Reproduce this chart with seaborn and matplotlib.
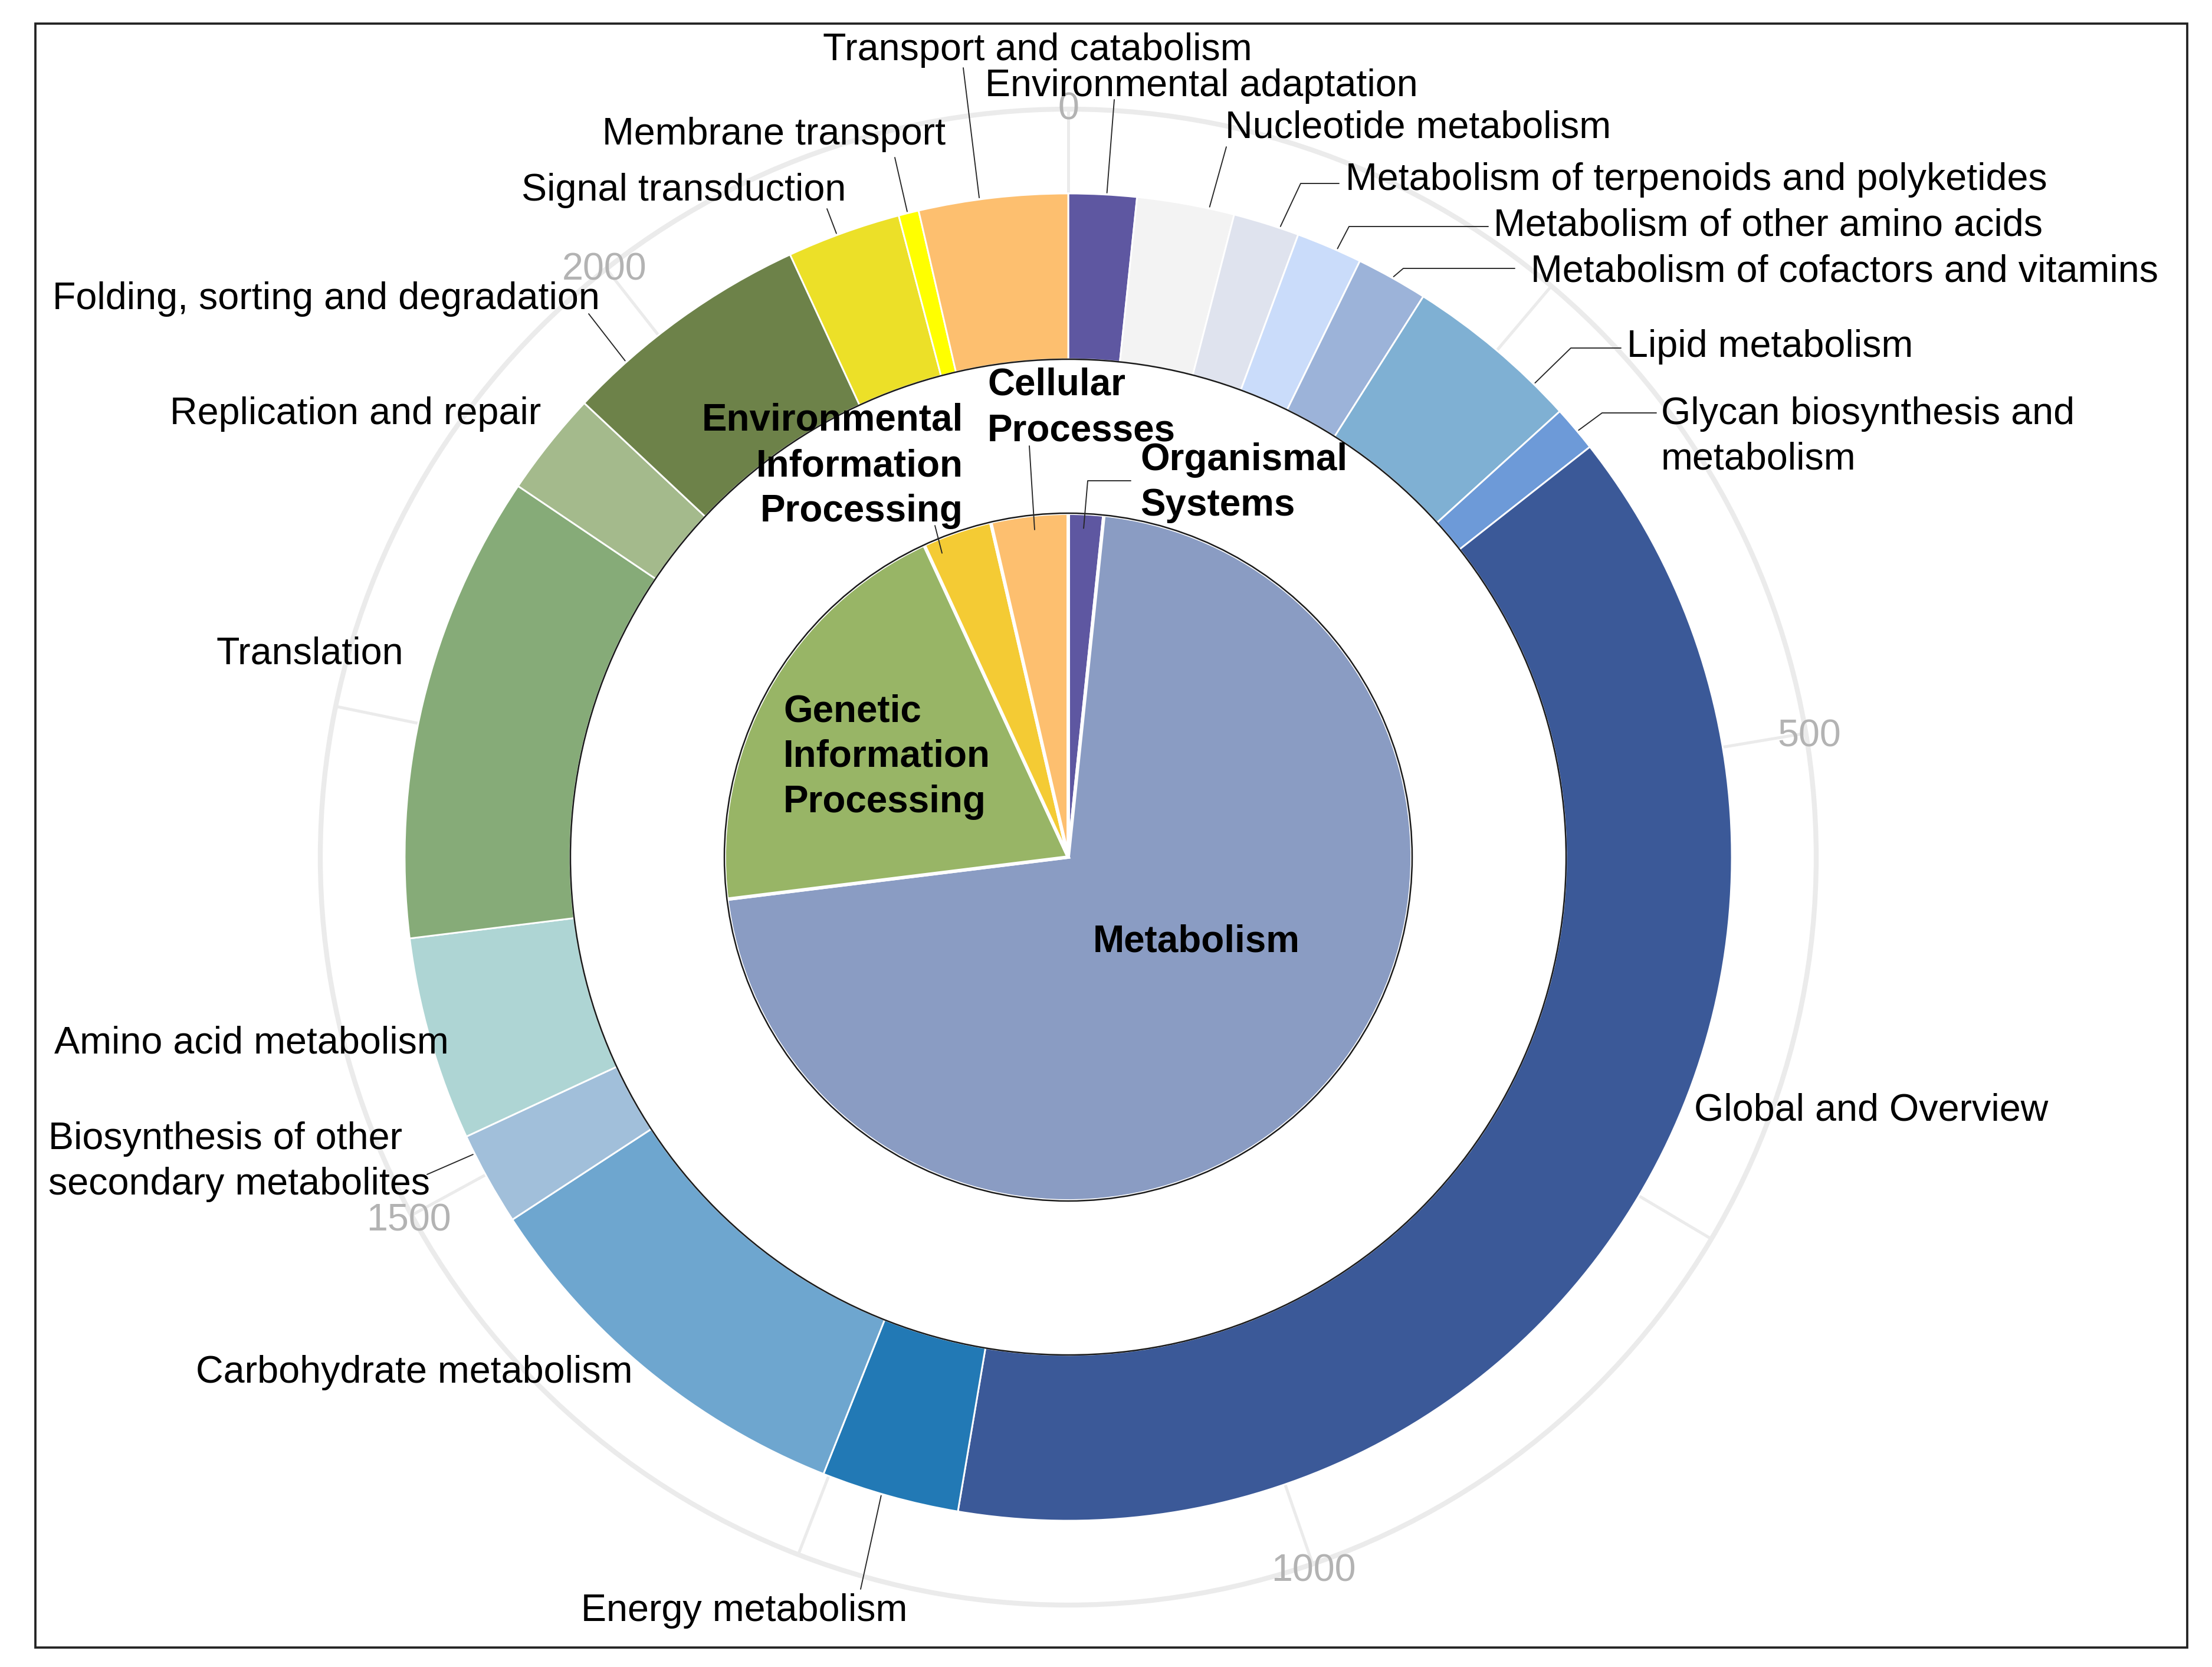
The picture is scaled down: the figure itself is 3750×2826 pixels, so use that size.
import numpy as np
import pandas as pd
import matplotlib
matplotlib.use("Agg")
import matplotlib.pyplot as plt
from matplotlib.patches import Circle, Rectangle
import seaborn as sns

# KEGG level 2 pathways, clockwise from the top (0)
pathways = ["Environmental adaptation", "Nucleotide metabolism",
            "Metabolism of terpenoids and polyketides", "Metabolism of other amino acids",
            "Metabolism of cofactors and vitamins", "Lipid metabolism",
            "Glycan biosynthesis and metabolism", "Global and Overview", "Energy metabolism",
            "Carbohydrate metabolism", "Biosynthesis of other secondary metabolites",
            "Amino acid metabolism", "Translation", "Replication and repair",
            "Folding, sorting and degradation", "Signal transduction", "Membrane transport",
            "Transport and catabolism"]
level1 = ["Organismal Systems"] + ["Metabolism"] * 11 + ["Genetic Information Processing"] * 3 \
    + ["Environmental Information Processing"] * 2 + ["Cellular Processes"]
counts = [37, 53, 36, 36, 39, 96, 25, 856, 75, 219, 51, 111, 255, 57, 137, 62, 11, 81]

outer_colors = ["#5e57a1", "#f3f3f3", "#dfe3ee", "#cadcfa", "#9cb3d9", "#7fb0d3", "#6d9ad8",
                "#3b5998", "#2279b5", "#6ea6cf", "#a1bfda", "#aed5d4", "#86ab78", "#a4ba8c",
                "#6d8249", "#ece028", "#ffff00", "#fdbf6f"]
inner_colors = {"Organismal Systems": "#5e57a1", "Metabolism": "#8a9cc3",
                "Genetic Information Processing": "#98b566",
                "Environmental Information Processing": "#f4cb34",
                "Cellular Processes": "#fdbf6f"}
tick_values = [0, 500, 1000, 1500, 2000]

df = pd.DataFrame({"pathway": pathways, "level1": level1, "count": counts})
inner = df.groupby("level1", sort=False)["count"].sum()
total = df["count"].sum()

sns.set_theme(style="white")
plt.rcParams["font.family"] = ["Liberation Sans", "DejaVu Sans"]

W, H = 3750, 2826
fig = plt.figure(figsize=(W / 300, H / 300), dpi=300)
ax = fig.add_axes([0, 0, 1, 1])

cx, cy = 1811, H - 1453
R_OUT, R_IN, R_PIE, R_GRID = 1125, 844, 583, 1268


def polar(value, r):
    # clockwise from the top, value in counts
    a = np.deg2rad(value / total * 360)
    return cx + r * np.sin(a), cy + r * np.cos(a)


# background scale: circle, radial ticks and values
ax.add_patch(Circle((cx, cy), R_GRID, fill=False, ec="#ebebeb", lw=2.0, zorder=0))
for v in np.arange(0, total, 250):
    x0, y0 = polar(v, R_OUT)
    x1, y1 = polar(v, R_GRID)
    ax.plot([x0, x1], [y0, y1], color="#ebebeb", lw=1.2, zorder=0)
for v in tick_values:
    x, y = polar(v, R_GRID + 6)
    ax.text(x, y, str(v), ha="center", va="center_baseline", fontsize=15.5, color="#b3b3b3",
            zorder=1)

# rings
ax.pie(df["count"], radius=R_OUT, center=(cx, cy), startangle=90, counterclock=False,
       colors=outer_colors, wedgeprops=dict(width=R_OUT - R_IN, edgecolor="white", linewidth=0.7))
ax.pie(inner.values, radius=R_PIE, center=(cx, cy), startangle=90, counterclock=False,
       colors=[inner_colors[k] for k in inner.index],
       wedgeprops=dict(edgecolor="white", linewidth=1.4))
ax.add_patch(Circle((cx, cy), R_IN, fill=False, ec="#1a1a1a", lw=0.6, zorder=3))
ax.add_patch(Circle((cx, cy), R_PIE, fill=False, ec="#1a1a1a", lw=0.6, zorder=3))

edges = np.concatenate([[0], np.cumsum(df["count"])])
inner_edges = np.concatenate([[0], np.cumsum(inner.values)])


def put(lines, x, base, ha="left", step=77, **kw):
    for j, line in enumerate(lines):
        ax.text(x, H - (base + j * step), line, ha=ha, va="baseline", zorder=5, **kw)


def leader(start, bends):
    xs = [start[0]] + [b[0] for b in bends]
    ys = [start[1]] + [H - b[1] for b in bends]
    ax.plot(xs, ys, color="#262626", lw=0.45, zorder=4)


# outer labels: text lines, left x, first baseline, leader start on slice, leader bends (image px)
outer_labels = {
    "Transport and catabolism": (["Transport and catabolism"], 1395, 102, 0.41, [(1633, 115)]),
    "Environmental adaptation": (["Environmental adaptation"], 1670, 163, 0.56, [(1889, 169)]),
    "Nucleotide metabolism": (["Nucleotide metabolism"], 2077, 233, 0.74, [(2079, 249)]),
    "Metabolism of terpenoids and polyketides": (["Metabolism of terpenoids and polyketides"],
                                                 2281, 322, 0.71, [(2205, 311), (2270, 311)]),
    "Metabolism of other amino acids": (["Metabolism of other amino acids"], 2532, 399, 0.62,
                                        [(2287, 384), (2523, 384)]),
    "Metabolism of cofactors and vitamins": (["Metabolism of cofactors and vitamins"], 2595, 478,
                                             0.51, [(2379, 455), (2568, 455)]),
    "Lipid metabolism": (["Lipid metabolism"], 2758, 605, 0.79, [(2663, 590), (2748, 590)]),
    "Glycan biosynthesis and metabolism": (["Glycan biosynthesis and", "metabolism"], 2816, 719,
                                           0.57, [(2716, 700), (2808, 700)]),
    "Global and Overview": (["Global and Overview"], 2872, 1900, None, None),
    "Energy metabolism": (["Energy metabolism"], 985, 2748, 0.56, [(1459, 2694)]),
    "Carbohydrate metabolism": (["Carbohydrate metabolism"], 332, 2344, None, None),
    "Biosynthesis of other secondary metabolites": (["Biosynthesis of other",
                                                     "secondary metabolites"], 82, 1948, 0.80,
                                                    [(724, 1991)]),
    "Amino acid metabolism": (["Amino acid metabolism"], 92, 1786, None, None),
    "Translation": (["Translation"], 366, 1125, None, None),
    "Replication and repair": (["Replication and repair"], 288, 719, None, None),
    "Folding, sorting and degradation": (["Folding, sorting and degradation"], 89, 524, 0.23,
                                         [(998, 532)]),
    "Signal transduction": (["Signal transduction"], 884, 340, 0.44, [(1402, 354)]),
    "Membrane transport": (["Membrane transport"], 1021, 245, 0.45, [(1517, 267)]),
}

for i, name in enumerate(df["pathway"]):
    lines, x, base, frac, bends = outer_labels[name]
    put(lines, x, base, fontsize=15.5, color="black")
    if frac is not None:
        leader(polar(edges[i] + frac * df["count"][i], 1128), bends)

# inner labels
inner_labels = {
    "Organismal Systems": (["Organismal", "Systems"], 1933, 797, "left", 0.45,
                           [(1844, 815), (1917, 815)]),
    "Metabolism": (["Metabolism"], 1853, 1614, "left", None, None),
    "Genetic Information Processing": (["Genetic", "Information", "Processing"], 1328, 1223,
                                       "left", None, None),
    "Environmental Information Processing": (["Environmental", "Information", "Processing"],
                                             1633, 730, "right", 0.19, [(1585, 891)]),
    "Cellular Processes": (["Cellular", "Processes"], 1674, 670, "left", 0.55, [(1745, 756)]),
}
for i, name in enumerate(inner.index):
    lines, x, base, ha, frac, bends = inner_labels[name]
    put(lines, x, base, ha=ha, fontsize=15.3, fontweight="bold", color="black")
    if frac is not None:
        leader(polar(inner_edges[i] + frac * inner.values[i], 558), bends)

ax.add_patch(Rectangle((60, H - 2793), 3708 - 60, 2793 - 40, fill=False, ec="#222222", lw=0.9,
                       zorder=6))

ax.set_xlim(0, W)
ax.set_ylim(0, H)
ax.set_axis_off()
fig.savefig("out.png", dpi=300, facecolor="white")
